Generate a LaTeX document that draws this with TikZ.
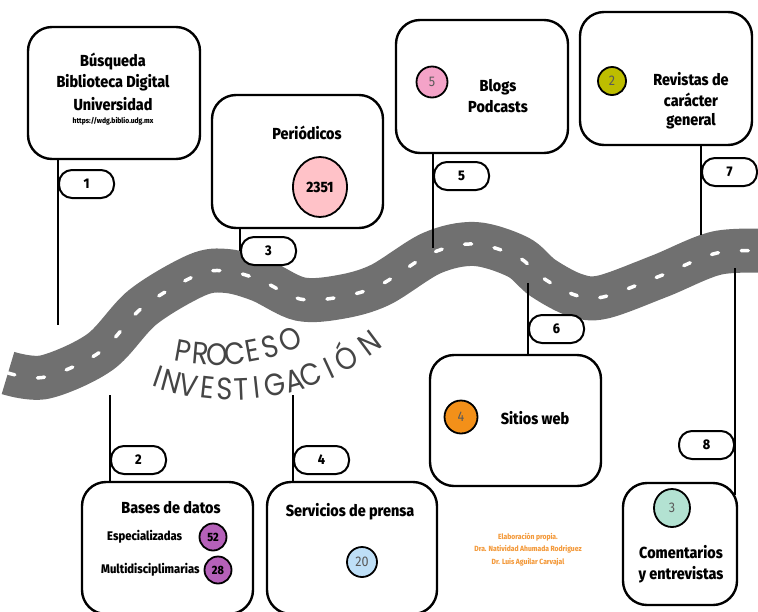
\documentclass[tikz,border=0pt]{standalone}
\usepackage{fontspec}
\setmainfont{Fira Sans}[FakeStretch=0.9, BoldFont={* ExtraBold}]
\newfontfamily\roadfont{Poppins}[FakeStretch=0.88]
\usetikzlibrary{shapes.geometric}

\definecolor{roadgray}{HTML}{707070}
\definecolor{pinkA}{HTML}{FFC2C8}
\definecolor{pinkB}{HTML}{F4A3C8}
\definecolor{olive}{HTML}{BDBD00}
\definecolor{purpleA}{HTML}{B561B9}
\definecolor{skyA}{HTML}{BEDFF7}
\definecolor{orangeA}{HTML}{F39019}
\definecolor{mintA}{HTML}{B3E2D2}
\definecolor{creditc}{HTML}{F39A3C}
\definecolor{lettergray}{HTML}{454545}

\tikzset{
  card/.style={draw=black, line width=2.4pt, rounded corners=24pt, fill=white, inner sep=0pt},
  pill/.style={draw=black, line width=2pt, fill=white, rounded corners=13pt,
    minimum width=55pt, minimum height=28pt, inner sep=0pt,
    font=\bfseries\fontsize{14}{14}\selectfont},
  stem/.style={draw=black, line width=2.4pt},
  title/.style={font=\bfseries\fontsize{16}{16}\selectfont, inner sep=0pt},
  subtitle/.style={font=\bfseries\fontsize{12.5}{12.5}\selectfont, inner sep=0pt},
  dot/.style={circle, draw=black, line width=1.8pt, inner sep=0pt},
  dotnum/.style={font=\fontsize{14}{14}\selectfont, text=black!65},
  roadtxt/.style={font=\roadfont\fontsize{31}{31}\selectfont, text=lettergray, anchor=base, inner sep=0pt},
  credit/.style={font=\bfseries\fontsize{7.5}{7.5}\selectfont, text=creditc, inner sep=0pt}
}

\begin{document}
\begin{tikzpicture}[x=1pt, y=-1pt]
\useasboundingbox (0,0) rectangle (758,611);
\clip (0,0) rectangle (758,611);

% ---------- the road ----------
\def\roadpath{plot[smooth, tension=0.55] coordinates {
  (8,373) (45,377) (100,352) (143,307) (197,275) (227,271) (260,280)
  (300,299) (340,297) (380,285) (432,253) (475,244) (518,257) (543,278)
  (575,295) (603,297) (660,276) (717,253) (770,251)}}
\draw[roadgray, line width=44pt] \roadpath;
\draw[white, line width=3.5pt, line cap=round, dash pattern=on 7pt off 23pt] \roadpath;

% ---------- road title, letter by letter on two arcs ----------
\coordinate (cP) at (217,165);
\coordinate (cI) at (232,160);
\foreach \ch/\ang in {P/-100.2, R/-94.9, O/-90, C/-84.5, E/-79.3, S/-73.7, O/-67.2}
  \node[roadtxt, rotate=\ang+90] at ([shift={(\ang:200pt)}]cP) {\ch};
\foreach \ch/\ang in {I/-108.9, N/-105.2, V/-100.8, E/-96.2, S/-91.9, T/-87.6, I/-83.8,
                      G/-79.2, A/-74.3, C/-69.8, I/-65.1, Ó/-60, N/-53.2}
  \node[roadtxt, rotate=\ang+90] at ([shift={(\ang:240pt)}]cI) {\ch};

% ---------- cards ----------
\node[card, minimum width=172pt, minimum height=132pt] (busq) at (114,93) {};
\node[card, minimum width=171pt, minimum height=133pt] (peri) at (297.5,161.5) {};
\node[card, minimum width=172pt, minimum height=133pt] (blog) at (482,86.5) {};
\node[card, minimum width=172pt, minimum height=133pt] (revi) at (666,78.5) {};
\node[card, minimum width=171pt, minimum height=132pt] (base) at (167.5,548) {};
\node[card, minimum width=170pt, minimum height=132pt] (serv) at (352,548) {};
\node[card, minimum width=171pt, minimum height=131pt] (siti) at (515.5,420.5) {};
\node[card, minimum width=114pt, minimum height=122pt] (come) at (680,544) {};

% ---------- stem ends and tag anchors ----------
\coordinate (s1) at (58,325);
\coordinate (s5) at (433,248);
\coordinate (s7) at (701,235);
\coordinate (s2) at (110,395);
\coordinate (s4) at (293,395);
\coordinate (s6) at (528,283);
\coordinate (s8) at (735,268);
\coordinate (s8b) at (735,495);
\coordinate (t3) at (240,251);

\draw[stem] (s1 |- busq.south) -- (s1);
\draw[stem] (t3 |- peri.south) -- (t3);
\draw[stem] (s5 |- blog.south) -- (s5);
\draw[stem] (s7 |- revi.south) -- (s7);
\draw[stem] (s2) -- (s2 |- base.north);
\draw[stem] (s4) -- (s4 |- serv.north);
\draw[stem] (s6) -- (s6 |- siti.north);
\draw[stem] (s8) -- (s8b);

% ---------- number tags on the stems ----------
\node[pill, anchor=west] (p1) at (58,184) {1};
\node[pill, anchor=west] (p3) at (t3) {3};
\node[pill, anchor=west] (p5) at (433,176) {5};
\node[pill, anchor=west] (p7) at (701,172) {7};
\node[pill, anchor=west] (p2) at (110,460) {2};
\node[pill, anchor=west] (p4) at (293,460) {4};
\node[pill, anchor=west] (p6) at (528,329) {6};
\node[pill, anchor=east] (p8) at (735,445) {8};

% ---------- card contents ----------
\node[title] (t1a) at (113,62) {Búsqueda};
\node[title] (t1b) at (113,83) {Biblioteca Digital};
\node[title] (t1c) at (113,104) {Universidad};
\node[font=\bfseries\fontsize{7.5}{7.5}\selectfont, inner sep=0pt] (t1d) at (113,121) {https://wdg.biblio.udg.mx};

\node[title] (t2) at (307,133) {Periódicos};
\node[ellipse, draw=black, line width=1.8pt, fill=pinkA, minimum width=54pt, minimum height=60pt, inner sep=0pt,
      font=\bfseries\fontsize{15}{15}\selectfont] (d2351) at (320,187) {2351};

\node[dot, fill=pinkB, minimum size=31pt, dotnum] (d5) at (432,82) {5};
\node[title] (t3a) at (498,87) {Blogs};
\node[title] (t3b) at (498,107) {Podcasts};

\node[dot, fill=olive, minimum size=28pt, dotnum] (d2) at (612,81) {2};
\node[title] (t4a) at (691,79) {Revistas de};
\node[title] (t4b) at (691,100) {carácter};
\node[title] (t4c) at (691,121) {general};

\node[title] (t5) at (171,508) {Bases de datos};
\node[subtitle, anchor=west] (t5a) at (107,537) {Especializadas};
\node[subtitle, anchor=west] (t5b) at (101,570) {Multidisciplimarias};
\node[dot, fill=purpleA, minimum size=27pt, font=\bfseries\fontsize{12}{12}\selectfont] (d52) at (213,537) {52};
\node[dot, fill=purpleA, minimum size=27pt, font=\bfseries\fontsize{12}{12}\selectfont] (d28) at (218,570) {28};

\node[title] (t6) at (350,512) {Servicios de prensa};
\node[dot, fill=skyA, minimum size=30pt, dotnum] (d20) at (362,562) {20};

\node[dot, fill=orangeA, minimum size=33pt, dotnum] (d4) at (461,417) {4};
\node[title] (t7) at (535,418) {Sitios web};

\node[ellipse, draw=black, line width=1.8pt, fill=mintA, minimum width=36pt, minimum height=38pt, inner sep=0pt, dotnum] (d3) at (672,508) {3};
\node[title] (t8a) at (681,552) {Comentarios};
\node[title] (t8b) at (681,575) {y entrevistas};

% ---------- credits ----------
\node[credit] (c1) at (528,537) {Elaboración propia.};
\node[credit] (c2) at (528,549) {Dra. Natividad Ahumada Rodriguez};
\node[credit] (c3) at (528,562) {Dr. Luis Aguilar Carvajal};
\end{tikzpicture}
\end{document}
